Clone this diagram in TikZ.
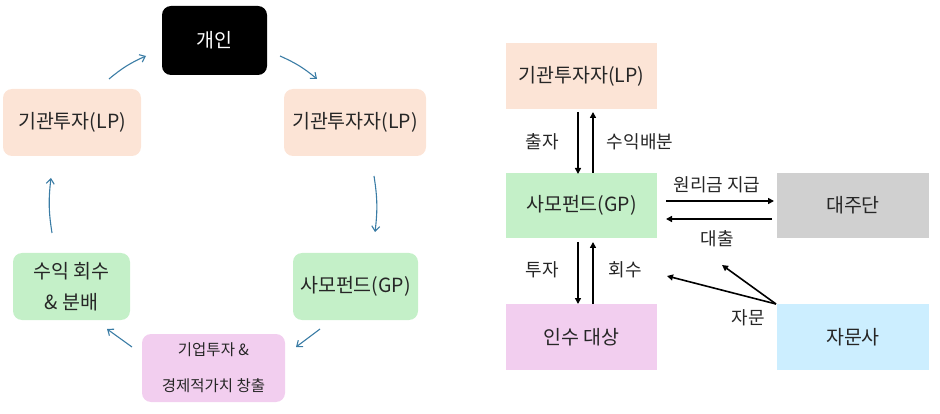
\documentclass[tikz,border=0pt]{standalone}
\usepackage{fontspec}
\setmainfont{Noto Sans CJK KR}
\usetikzlibrary{arrows.meta}
\definecolor{peach}{HTML}{FCE4D6}
\definecolor{mint}{HTML}{C4F0C8}
\definecolor{lilac}{HTML}{F2CEEF}
\definecolor{greybox}{HTML}{D0D0D0}
\definecolor{skyb}{HTML}{CCEEFF}
\definecolor{teal}{HTML}{3A7CA5}
\definecolor{txt}{HTML}{262626}
\begin{document}
\begin{tikzpicture}[x=1pt,y=-1pt,
  cyc/.style={rounded corners=9pt,inner sep=0pt,text=txt,font=\fontsize{19.5}{22}\selectfont,align=center},
  flat/.style={inner sep=0pt,text=txt,font=\fontsize{19.5}{22}\selectfont,align=center},
  cyarrow/.style={teal,line width=1.1pt,-{Straight Barb[length=5pt,width=8pt]}},
  bkarrow/.style={black,line width=1.6pt,-{Triangle[length=6pt,width=6pt]}},
  lbl/.style={font=\fontsize{18}{20}\selectfont,text=txt,inner sep=0pt}]
\useasboundingbox (0,0) rectangle (940,414);
% left cycle
\node[cyc,fill=black,text=white,minimum width=105pt,minimum height=69pt] (indiv) at (214.5,40.5) {개인};
\node[cyc,fill=peach,minimum width=138pt,minimum height=67pt] (llp) at (72,122.5) {기관투자(LP)};
\node[cyc,fill=peach,minimum width=142pt,minimum height=67pt] (rlp) at (355,122.5) {기관투자자(LP)};
\node[cyc,fill=mint,minimum width=125pt,minimum height=67pt] (gp) at (355.5,286.5) {사모펀드(GP)};
\node[cyc,fill=mint,minimum width=117pt,minimum height=67pt,font=\fontsize{19.5}{31}\selectfont] (ret) at (71.5,286.5) {수익 회수\\\& 분배};
\node[cyc,fill=lilac,minimum width=143pt,minimum height=68pt,font=\fontsize{15.5}{36}\selectfont] (corp) at (213.5,368) {기업투자 \&\\경제적가치 창출};
\coordinate (a1s) at (109,79); \coordinate (a1e) at (146,56);
\coordinate (a2s) at (280,56); \coordinate (a2e) at (317,79);
\coordinate (a3s) at (374,176); \coordinate (a3e) at (375,232);
\coordinate (a4s) at (320,329); \coordinate (a4e) at (296,347);
\coordinate (a5s) at (132,347); \coordinate (a5e) at (107,329);
\coordinate (a6s) at (52,233); \coordinate (a6e) at (51,178);
\draw[cyarrow] (a1s) to[bend left=8] (a1e);
\draw[cyarrow] (a2s) to[bend left=8] (a2e);
\draw[cyarrow] (a3s) to[bend left=8] (a3e);
\draw[cyarrow] (a4s) to (a4e);
\draw[cyarrow] (a5s) to (a5e);
\draw[cyarrow] (a6s) to[bend left=8] (a6e);
% right structure
\node[flat,fill=peach,minimum width=151pt,minimum height=66pt] (lp2) at (581.5,76) {기관투자자(LP)};
\node[flat,fill=mint,minimum width=151pt,minimum height=65pt] (gp2) at (581.5,205.5) {사모펀드(GP)};
\node[flat,fill=lilac,minimum width=151pt,minimum height=66pt] (tgt) at (581.5,337) {인수 대상};
\node[flat,fill=greybox,minimum width=152pt,minimum height=65pt] (lend) at (853,205.5) {대주단};
\node[flat,fill=skyb,minimum width=152pt,minimum height=66pt] (adv) at (853,337) {자문사};
\draw[bkarrow] (578,112) -- (578,174);
\draw[bkarrow] (593,173) -- (593,112);
\node[lbl] (l1) at (542,142) {출자};
\node[lbl] (l2) at (640,142) {수익배분};
\draw[bkarrow] (666,201) -- (774,201);
\draw[bkarrow] (772,219) -- (666,219);
\node[lbl] (l3) at (717,185) {원리금 지급};
\node[lbl] (l4) at (717,239) {대출};
\draw[bkarrow] (578,242) -- (578,304);
\draw[bkarrow] (593,304) -- (593,242);
\node[lbl] (l5) at (542,270) {투자};
\node[lbl] (l6) at (625,270) {회수};
\coordinate (advc) at (776,304);
\coordinate (t1) at (667,276);
\coordinate (t2) at (722,265);
\draw[bkarrow] (advc) -- (t1);
\draw[bkarrow] (advc) -- (t2);
\node[lbl] (l7) at (748,318) {자문};
\end{tikzpicture}
\end{document}
